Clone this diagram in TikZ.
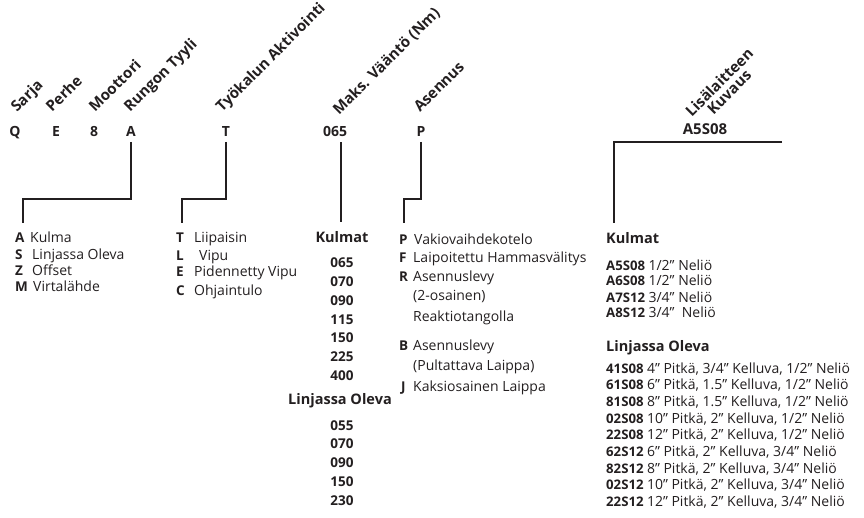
\documentclass[tikz,border=0pt]{standalone}
\usepackage{fontspec}
\setmainfont{Open Sans}
\usetikzlibrary{positioning}
\definecolor{inkdark}{RGB}{35,31,32}

\begin{document}
\begin{tikzpicture}[x=1pt,y=-1pt,text=inkdark,
            code/.style={font=\bfseries\fontsize{14}{15}\selectfont,
                         inner sep=0pt,outer sep=5pt,anchor=base},
            head/.style={font=\bfseries\fontsize{15}{14}\selectfont,
                         rotate=45,anchor=base west,inner sep=0pt},
            item/.style={font=\fontsize{14}{14}\selectfont,
                         anchor=base west,inner sep=0pt},
            key/.style={item,font=\bfseries\fontsize{13.5}{14}\selectfont},
            sub/.style={item,font=\bfseries\fontsize{14.5}{14}\selectfont},
            part/.style={item,font=\bfseries\fontsize{13.2}{14}\selectfont},
            num/.style={font=\bfseries\fontsize{13.5}{14}\selectfont,
                        anchor=base,inner sep=0pt},
            conn/.style={draw=inkdark,line width=1.6pt}]
        \useasboundingbox (0,0) rectangle (864,518);

        % code letters
        \node[code] (cQ) at (15,137) {Q};
        \node[code] (cE) at (56,137) {E};
        \node[code] (c8) at (94,137) {8};
        \node[code] (cA) at (131,137) {A};
        \node[code] (cT) at (226,137) {T};
        \node[code] (cN) at (335,137) {065};
        \node[code] (cP) at (421,137) {P};
        \node[code,font=\bfseries\fontsize{15}{15}\selectfont] (cX) at (705,135) {A5S08};

        % slanted headings
        \node[head] (hQ) at (17,113) {Sarja};
        \node[head] (hE) at (52,113) {Perhe};
        \node[head] (hM) at (95,113) {Moottori};
        \node[head] (hA) at (130,113) {Rungon Tyyli};
        \node[head] (hT) at (222,113) {Työkalun Aktivointi};
        \node[head] (hN) at (339,116) {Maks. Vääntö (Nm)};
        \node[head] (hP) at (420,113) {Asennus};
        \node[head,anchor=center,align=center] (hX) at (724,87)
            {Lisälaitteen\\Kuvaus};

        % Rungon Tyyli
        \foreach \c/\t/\y/\tx in {A/Kulma/243/30,S/Linjassa Oleva/260/32,
                                  Z/Offset/276/32,M/Virtalähde/292/33} {
            \node[key] (rt-\c) at (15,\y) {\c};
            \node[item] at (\tx,\y) {\t};
        }
        % Työkalun Aktivointi
        \foreach \c/\t/\y/\tx in {T/Liipaisin/243/194,L/Vipu/261/199,
                                  E/Pidennetty Vipu/277/194,C/Ohjaintulo/296/194} {
            \node[key] (ta-\c) at (176,\y) {\c};
            \node[item] at (\tx,\y) {\t};
        }

        % Maks. Vääntö
        \node[num,font=\bfseries\fontsize{14.5}{14}\selectfont] (mv-k) at (342,243) {Kulmat};
        \foreach \n [count=\i] in {065,070,090,115,150,225,400}
            \node[num] (mv-k\i) at (342,{268+(\i-1)*18.7}) {\n};
        \node[num,font=\bfseries\fontsize{14.5}{14}\selectfont] (mv-l) at (340,404) {Linjassa Oleva};
        \foreach \n [count=\i] in {055,070,090,150,230}
            \node[num] (mv-l\i) at (342,{430+(\i-1)*18.75}) {\n};

        % Asennus
        \node[key] (as-P) at (399,245) {P};
        \node[item] at (414,245) {Vakiovaihdekotelo};
        \node[key] (as-F) at (399,263) {F};
        \node[item] at (413,263) {Laipoitettu Hammasvälitys};
        \node[key] (as-R) at (399,282) {R};
        \node[item] at (413,282) {Asennuslevy};
        \node[item] at (413,301) {(2-osainen)};
        \node[item] at (413,322) {Reaktiotangolla};
        \node[key] (as-B) at (399,350) {B};
        \node[item] at (413,350) {Asennuslevy};
        \node[item] at (413,370) {(Pultattava Laippa)};
        \node[key] (as-J) at (401,391) {J};
        \node[item] at (413,391) {Kaksiosainen Laippa};

        % Lisälaitteen Kuvaus
        \node[sub] (lk-k) at (606,244) {Kulmat};
        \foreach \c/\t/\y in {A5S08/{1/2" Neliö}/271,A6S08/{1/2" Neliö}/286,
                              A7S12/{3/4" Neliö}/302,A8S12/{3/4"\ \ Neliö}/317} {
            \node[part] (lk-\c) at (606,\y) {\c};
            \node[item,right=3pt of lk-\c.base east,anchor=base west] {\t};
        }
        \node[sub] (lk-l) at (606,352) {Linjassa Oleva};
        \foreach \c/\t [count=\i] in {41S08/{4" Pitkä, 3/4" Kelluva, 1/2" Neliö},
                                     61S08/{6" Pitkä, 1.5" Kelluva, 1/2" Neliö},
                                     81S08/{8" Pitkä, 1.5" Kelluva, 1/2" Neliö},
                                     02S08/{10" Pitkä, 2" Kelluva, 1/2" Neliö},
                                     22S08/{12" Pitkä, 2" Kelluva, 1/2" Neliö},
                                     62S12/{6" Pitkä, 2" Kelluva, 3/4" Neliö},
                                     82S12/{8" Pitkä, 2" Kelluva, 3/4" Neliö},
                                     02S12/{10" Pitkä, 2" Kelluva, 3/4" Neliö},
                                     22S12/{12" Pitkä, 2" Kelluva, 3/4" Neliö}} {
            \node[part] (lo-\i) at (606,{373+(\i-1)*16.7}) {\c};
            \node[item,right=3pt of lo-\i.base east,anchor=base west] {\t};
        }

        % connectors
        \coordinate (eA) at (23,223);
        \coordinate (eT) at (182,223);
        \coordinate (eP) at (404,223);
        \coordinate (xR) at (782,142);
        \coordinate (eX) at (614,223);
        \draw[conn] (cA.south) -- ++(0,57) -| (eA);
        \draw[conn] (cT.south) -- ++(0,57) -| (eT);
        \draw[conn] ([xshift=6pt]cN.south) -- ++(0,80);
        \draw[conn] (cP.south) -- ++(0,57) -| (eP);
        \draw[conn] (xR) -| (eX);
\end{tikzpicture}
\end{document}
